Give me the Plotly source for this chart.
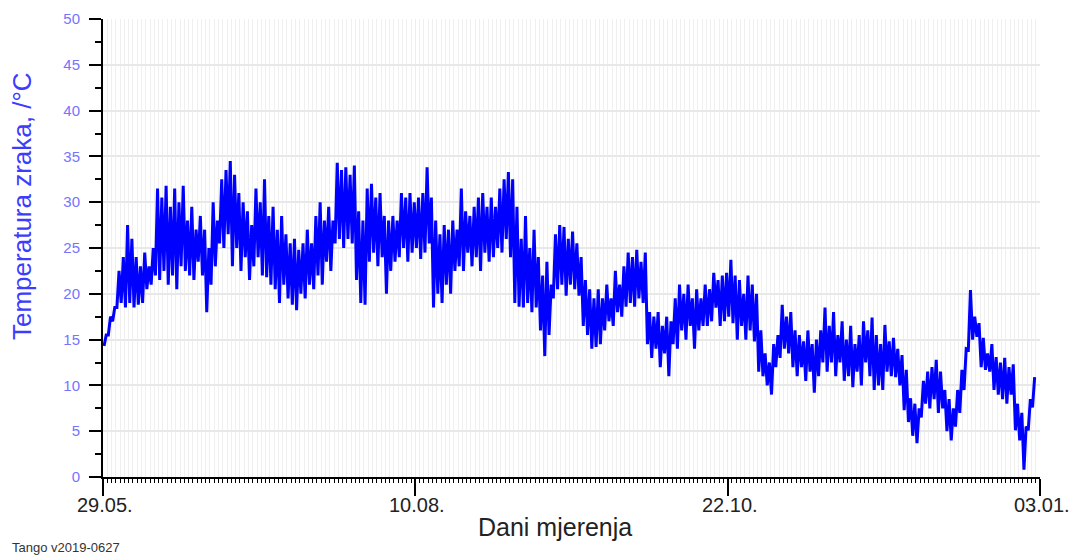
import plotly.graph_objects as go

# ---- data (daily min / max air temperature, °C) ----
tick_labels = ["29.05.", "10.08.", "22.10.", "03.01."]
tick_days = [0, 73, 146, 219]

daily_min = [
    14.3, 15.5, 17.0, 18.5, 19.0, 18.5, 19.0, 18.5, 18.8, 19.0,
    20.5, 21.0, 22.0, 21.5, 22.5, 21.0, 22.0, 20.5, 23.0, 22.5,
    22.0, 21.5, 23.5, 22.0, 18.0, 21.0, 23.0, 25.5, 25.0, 26.5,
    23.0, 25.0, 22.5, 24.0, 21.5, 23.0, 24.0, 22.0, 21.8, 21.0,
    20.5, 19.0, 21.0, 19.5, 18.8, 18.2, 20.0, 19.5, 21.0, 20.5,
    22.0, 21.0, 23.5, 22.5, 25.5, 26.0, 25.0, 26.0, 25.5, 21.5,
    19.0, 18.8, 23.5, 24.5, 23.0, 24.0, 20.0, 22.5, 23.5, 24.0,
    25.0, 23.5, 24.5, 25.0, 23.8, 24.5, 25.5, 18.5, 20.0, 19.0,
    21.0, 20.0, 22.5, 23.0, 22.5, 24.5, 23.0, 24.0, 22.5, 24.5,
    23.5, 24.0, 25.0, 24.5, 26.0, 24.0, 19.0, 18.6, 18.5, 19.0,
    18.0, 18.5, 16.0, 13.2, 15.5, 19.5, 20.5, 21.0, 19.8, 21.0,
    20.5, 19.8, 16.5, 15.5, 14.0, 14.2, 14.5, 16.0, 17.0, 16.5,
    18.0, 17.5, 18.6, 19.0, 18.6, 19.5, 19.0, 14.5, 13.0, 14.0,
    12.0, 13.5, 11.0, 14.5, 14.0, 16.0, 15.0, 16.5, 14.0, 16.0,
    16.5, 16.5, 17.0, 18.5, 16.5, 17.0, 17.5, 16.8, 15.0, 16.5,
    15.0, 16.0, 14.8, 11.5, 11.0, 10.0, 9.0, 12.0, 13.0, 14.0,
    13.5, 12.0, 11.0, 12.0, 10.5, 11.5, 9.2, 11.0, 12.5, 11.5,
    12.5, 11.0, 12.5, 10.5, 11.0, 9.8, 11.5, 10.0, 12.5, 11.0,
    9.5, 10.0, 9.5, 11.5, 11.0, 10.9, 10.0, 7.3, 6.0, 4.5,
    3.7, 6.5, 8.0, 7.5, 8.5, 7.0, 7.5, 5.0, 4.0, 5.5,
    7.0, 9.5, 13.9, 15.0, 15.3, 12.0, 11.7, 11.5, 9.5, 9.0,
    8.5, 8.0, 9.0, 5.1, 4.0, 0.8, 5.1, 7.6,
]

daily_max = [
    15.5, 17.5, 18.5, 22.5, 24.0, 27.5, 26.0, 24.0, 23.0, 24.5,
    23.0, 25.0, 31.5, 30.5, 31.8, 29.5, 31.5, 30.0, 31.8, 28.0,
    29.5, 27.0, 28.5, 27.0, 25.0, 30.0, 28.0, 32.5, 33.5, 34.5,
    33.0, 31.0, 30.0, 29.0, 27.5, 31.5, 30.0, 32.5, 28.5, 29.5,
    27.0, 28.5, 26.5, 25.5, 26.0, 24.8, 25.5, 27.0, 25.5, 28.5,
    30.0, 28.0, 29.5, 28.0, 34.3, 33.5, 33.8, 33.0, 34.0, 29.0,
    28.0, 31.5, 32.0, 30.5, 31.0, 28.5, 28.0, 28.5, 28.0, 31.0,
    30.5, 31.0, 30.0, 30.5, 31.0, 33.8, 30.5, 28.0, 26.5, 27.5,
    27.0, 28.0, 27.0, 31.5, 29.0, 28.5, 29.5, 30.5, 31.0, 29.5,
    30.5, 29.5, 31.5, 32.5, 33.3, 32.5, 29.5, 26.0, 28.5, 25.0,
    27.0, 24.0, 22.0, 23.5, 21.0, 26.5, 27.5, 27.3, 26.0, 26.8,
    25.5, 24.0, 21.5, 20.5, 19.5, 20.5, 19.5, 21.0, 19.5, 22.5,
    21.0, 23.0, 24.5, 24.0, 24.8, 23.5, 24.5, 18.0, 17.5, 18.0,
    16.5, 17.5, 17.0, 19.5, 21.0, 20.0, 21.0, 19.5, 20.5, 19.5,
    21.0, 20.5, 22.3, 21.5, 22.0, 22.3, 23.7, 22.0, 21.5, 20.0,
    22.0, 21.0, 20.0, 16.0, 13.5, 12.5, 14.5, 15.5, 18.8, 17.5,
    18.0, 16.0, 15.5, 14.8, 16.0, 14.5, 15.0, 16.0, 18.5, 16.5,
    18.0, 15.5, 17.0, 15.0, 16.5, 14.5, 15.5, 17.0, 16.0, 17.4,
    15.5, 14.5, 16.6, 14.8, 15.2, 14.0, 13.3, 11.7, 8.6, 8.0,
    7.5, 10.5, 11.5, 12.0, 12.8, 11.5, 9.5, 8.5, 7.5, 9.5,
    11.7, 14.0, 20.4, 17.5, 16.8, 15.2, 13.5, 14.5, 13.1, 12.5,
    13.0, 12.0, 12.3, 8.0, 7.0, 5.5, 8.5, 10.9,
]

assert len(daily_min) == len(daily_max)

# interleave: early-morning minimum, afternoon maximum of each day
t, temp = [], []
for d, (lo, hi) in enumerate(zip(daily_min, daily_max)):
    t += [d + 0.25, d + 0.75]
    temp += [lo, hi]

fig = go.Figure(
    go.Scatter(x=t, y=temp, mode="lines",
               line=dict(color="#0000ff", width=3), hoverinfo="skip")
)

fig.update_layout(
    width=1076, height=558,
    margin=dict(l=103, r=36, t=19, b=81, autoexpand=False),
    plot_bgcolor="white", paper_bgcolor="white",
    showlegend=False,
    font=dict(family="Liberation Sans, Arial, sans-serif"),
)

fig.update_xaxes(
    range=[0, 219], tickmode="array", tickvals=tick_days, ticktext=tick_labels,
    showticklabels=False, automargin=False,
    ticks="outside", ticklen=17, tickwidth=2, tickcolor="black",
    showline=True, linecolor="black", linewidth=2,
    showgrid=True, gridcolor="#ededed", gridwidth=1, zeroline=False,
    minor=dict(dtick=1, tick0=0, ticks="outside", ticklen=4, tickwidth=1,
               tickcolor="black", showgrid=True, gridcolor="#efefef", gridwidth=1),
)

fig.update_yaxes(
    range=[0, 50], dtick=5, tick0=0, automargin=False,
    ticks="outside", ticklen=12, tickwidth=2, tickcolor="black",
    showline=True, linecolor="black", linewidth=2,
    showgrid=True, gridcolor="#e8e8e8", gridwidth=2, zeroline=False,
    tickfont=dict(size=15, color="#7474ff"), ticklabelstandoff=6,
    minor=dict(dtick=2.5, tick0=0, ticks="outside", ticklen=6, tickwidth=2,
               tickcolor="black", showgrid=False),
)

# x tick labels, sitting right under the long major ticks
for day, lab in zip(tick_days, tick_labels):
    fig.add_annotation(text=lab, xref="x", yref="paper", x=day, y=(477 - 492) / 458,
                       xanchor="center", yanchor="top", xshift=2, showarrow=False,
                       font=dict(size=20, color="#222222"))

fig.add_annotation(text="Temperatura zraka, /°C", textangle=-90,
                   xref="paper", yref="paper", x=(22 - 103) / 937, y=(477 - 206) / 458,
                   xanchor="center", yanchor="middle", showarrow=False,
                   font=dict(size=26, color="#3c3cff"))
fig.add_annotation(text="Dani mjerenja",
                   xref="paper", yref="paper", x=(555 - 103) / 937, y=(477 - 527) / 458,
                   xanchor="center", yanchor="middle", showarrow=False,
                   font=dict(size=25, color="#222222"))
fig.add_annotation(text="Tango v2019-0627",
                   xref="paper", yref="paper", x=(10 - 103) / 937, y=(477 - 547) / 458,
                   xanchor="left", yanchor="middle", showarrow=False,
                   font=dict(size=13, color="#333333"))

fig.write_html("out.html", config={"displayModeBar": False},
               post_script="document.body.style.margin='0px';")
